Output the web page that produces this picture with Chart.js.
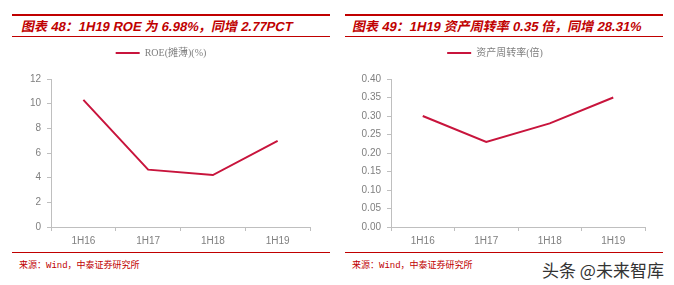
<!DOCTYPE html>
<html>
<head>
<meta charset="utf-8">
<script src="https://cdn.jsdelivr.net/npm/chart.js@4"></script>
<style>
  body { margin: 0; background: #fff; width: 674px; height: 285px; position: relative; overflow: hidden; }
  .rule { position: absolute; background: #c00000; }
  .title { position: absolute; top: 16px; height: 20px; line-height: 20px; color: #c00000;
           font: bold 13px "Liberation Sans", "Noto Sans CJK SC", sans-serif; white-space: nowrap;
           transform: skewX(-12deg); transform-origin: left center; }
  .src { position: absolute; top: 258px; color: #c00000; font: 9px "Liberation Mono", "Noto Sans CJK SC", monospace; white-space: nowrap; }
  .box { position: absolute; top: 40px; width: 320px; height: 210px; }
  .mark { position: absolute; left: 542px; top: 257px; font: 17px "Noto Sans CJK SC", sans-serif; color: #333; white-space: nowrap; }
</style>
</head>
<body>
<div class="rule" style="left:12px;top:14px;width:318px;height:2px"></div>
<div class="rule" style="left:12px;top:36px;width:318px;height:1px"></div>
<div class="title" style="left:22px">图表 48：1H19 ROE 为 6.98%，同增 2.77PCT</div>
<div class="box" style="left:12px"><canvas id="c1"></canvas></div>
<div class="rule" style="left:12px;top:252px;width:318px;height:1px"></div>
<div class="src" style="left:19px">来源：Wind，中泰证券研究所</div>

<div class="rule" style="left:345px;top:14px;width:318px;height:2px"></div>
<div class="rule" style="left:345px;top:36px;width:318px;height:1px"></div>
<div class="title" style="left:353px">图表 49：1H19 资产周转率 0.35 倍，同增 28.31%</div>
<div class="box" style="left:345px"><canvas id="c2"></canvas></div>
<div class="rule" style="left:345px;top:252px;width:318px;height:1px"></div>
<div class="src" style="left:352px">来源：Wind，中泰证券研究所</div>

<div class="mark">头条 @未来智库</div>

<script>
const periods = ['1H16', '1H17', '1H18', '1H19'];
const roe = [10.31, 4.65, 4.21, 6.98];
const turnover = [0.30, 0.23, 0.28, 0.35];

const lineColor = '#c8143c';
const axisColor = '#bfbfbf';
const tickColor = '#7f7f7f';

// push the plot down a little under the legend
const legendSpace = {
    id: 'legendSpace',
    beforeInit(chart) {
        const fit = chart.legend.fit;
        chart.legend.fit = function () {
            fit.bind(chart.legend)();
            this.height += 11;
        };
    }
};

function makeChart(id, label, data, max, step, digits, yWidth, padRight) {
    return new Chart(document.getElementById(id), {
        type: 'line',
        data: {
            labels: periods,
            datasets: [{
                label: label,
                data: data,
                borderColor: lineColor,
                backgroundColor: lineColor,
                borderWidth: 2,
                pointRadius: 0,
                pointStyle: 'line',
                tension: 0
            }]
        },
        options: {
            responsive: true,
            maintainAspectRatio: false,
            animation: false,
            layout: { padding: { left: 0, right: padRight, top: 0, bottom: 0 } },
            plugins: {
                tooltip: { enabled: false },
                legend: {
                    labels: {
                        usePointStyle: true,
                        pointStyle: 'line',
                        pointStyleWidth: 24,
                        boxHeight: 10,
                        padding: 8,
                        color: '#808080',
                        font: { family: '"Liberation Serif", "Noto Sans CJK SC", serif', size: 10 }
                    }
                }
            },
            scales: {
                x: {
                    offset: true,
                    border: { color: axisColor },
                    grid: { offset: true, drawOnChartArea: false, color: axisColor, tickLength: 4 },
                    ticks: { color: tickColor, font: { family: '"Liberation Sans", Arial', size: 10 }, padding: 4, maxRotation: 0 },
                    afterFit: s => { s.height = 23; }
                },
                y: {
                    min: 0,
                    max: max,
                    border: { color: axisColor },
                    grid: { drawOnChartArea: false, color: axisColor, tickLength: 4 },
                    ticks: {
                        stepSize: step,
                        color: tickColor,
                        padding: 6,
                        font: { family: '"Liberation Sans", Arial', size: 10 },
                        callback: v => v.toFixed(digits)
                    },
                    afterFit: s => { s.width = yWidth; }
                }
            }
        },
        plugins: [legendSpace]
    });
}

makeChart('c1', 'ROE(摊薄)(%)', roe, 12, 2, 0, 39, 22);
makeChart('c2', '资产周转率(倍)', turnover, 0.4, 0.05, 2, 46, 20);
</script>
</body>
</html>
